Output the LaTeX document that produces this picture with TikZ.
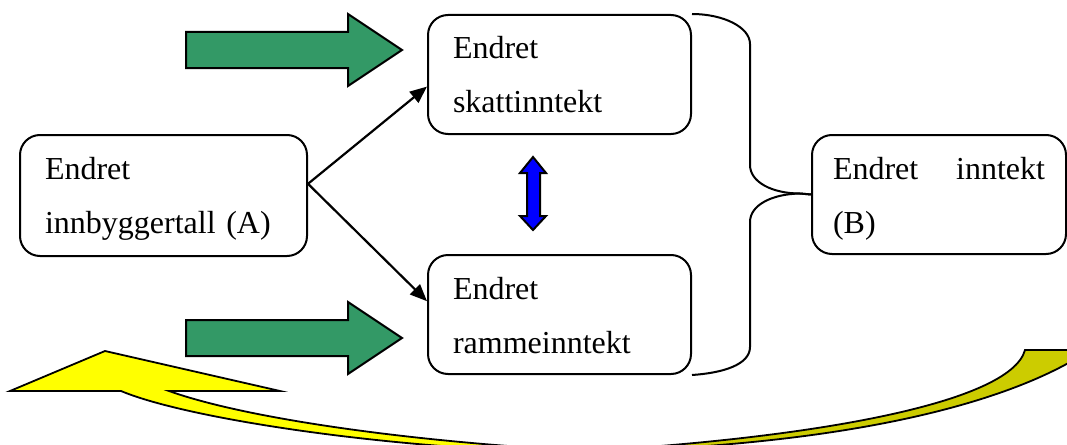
\documentclass[tikz,border=0pt]{standalone}
\usepackage{fontspec}
\setmainfont{Liberation Serif}
\usetikzlibrary{arrows.meta,calc}
\definecolor{greenA}{RGB}{51,153,102}
\definecolor{yelA}{RGB}{255,255,0}
\definecolor{yelB}{RGB}{204,204,0}
\definecolor{blueA}{RGB}{0,0,255}
\begin{document}
\begin{tikzpicture}[x=1pt,y=-1pt,
 box/.style={draw, line width=2, rounded corners=20, inner xsep=25, inner ysep=0,
   text height=44, align=left, anchor=north west, font=\fontsize{32}{54}\selectfont},
 conn/.style={line width=2.2, -{Triangle[length=17,width=14]}},
 bracket/.style={line width=2},
 blockarrow/.style={draw, line width=2, line join=miter}]
\useasboundingbox (0,0) rectangle (1067,444);

% yellow curved arrow
\begin{scope}
\clip (0,0) rectangle (1067,444);
\filldraw[fill=yelB, line width=1.8] (1025,350) -- (1090,350)
  .. controls (1000,410) and (820,448) .. (570,452)
  .. controls (800,440) and (1010,405) .. (1025,350) -- cycle;
\filldraw[fill=yelA, line width=1.8, line join=miter] (10,391) -- (105,351) -- (280,391) -- (169,391)
  .. controls (250,420) and (420,442) .. (570,450) -- (570,452)
  .. controls (400,450) and (190,420) .. (121,391) -- cycle;
\end{scope}

% boxes
\node[box, text width=237, text depth=77] (A) at (19,134) {Endret\\innbyggertall (A)};
\node[box, text width=213, text depth=75] (S) at (427,14) {Endret\\skattinntekt};
\node[box, text width=213, text depth=75] (R) at (427,254) {Endret\\rammeinntekt};
\node[box, text width=212, inner xsep=21, text depth=75] (B) at (811,134) {Endret\hfill inntekt\\(B)};

% connectors
\coordinate (a0) at ($(A.north east)!0.405!(A.south east)$);
\coordinate (s0) at ($(S.north west)!0.6!(S.south west)$);
\coordinate (r0) at ($(R.north west)!0.39!(R.south west)$);
\draw[conn] (a0) -- (s0);
\draw[conn] (a0) -- (r0);

% bracket
\draw[bracket] (S.north east) .. controls (723,14) and (750,27) .. (750,44) -- (750,165)
  .. controls (750,182) and (772,193.5) .. (800,193.5) -- (B.west);
\draw[bracket] (B.west) -- (800,193.5) .. controls (772,194) and (750,205) .. (750,222)
  -- (750,347) .. controls (750,365) and (722,373) .. (R.south east);

% green block arrows
\draw[blockarrow, fill=greenA] (186,32) -- (348,32) -- (348,14) -- (402,50) -- (348,86) -- (348,68) -- (186,68) -- cycle;
\draw[blockarrow, fill=greenA] (186,320) -- (348,320) -- (348,302) -- (402,338) -- (348,374) -- (348,356) -- (186,356) -- cycle;

% blue double arrow
\draw[blockarrow, fill=blueA] (533,157) -- (546,173) -- (540,173) -- (540,216) -- (546,216) -- (533,230)
  -- (520,216) -- (527,216) -- (527,173) -- (520,173) -- cycle;
\end{tikzpicture}
\end{document}
